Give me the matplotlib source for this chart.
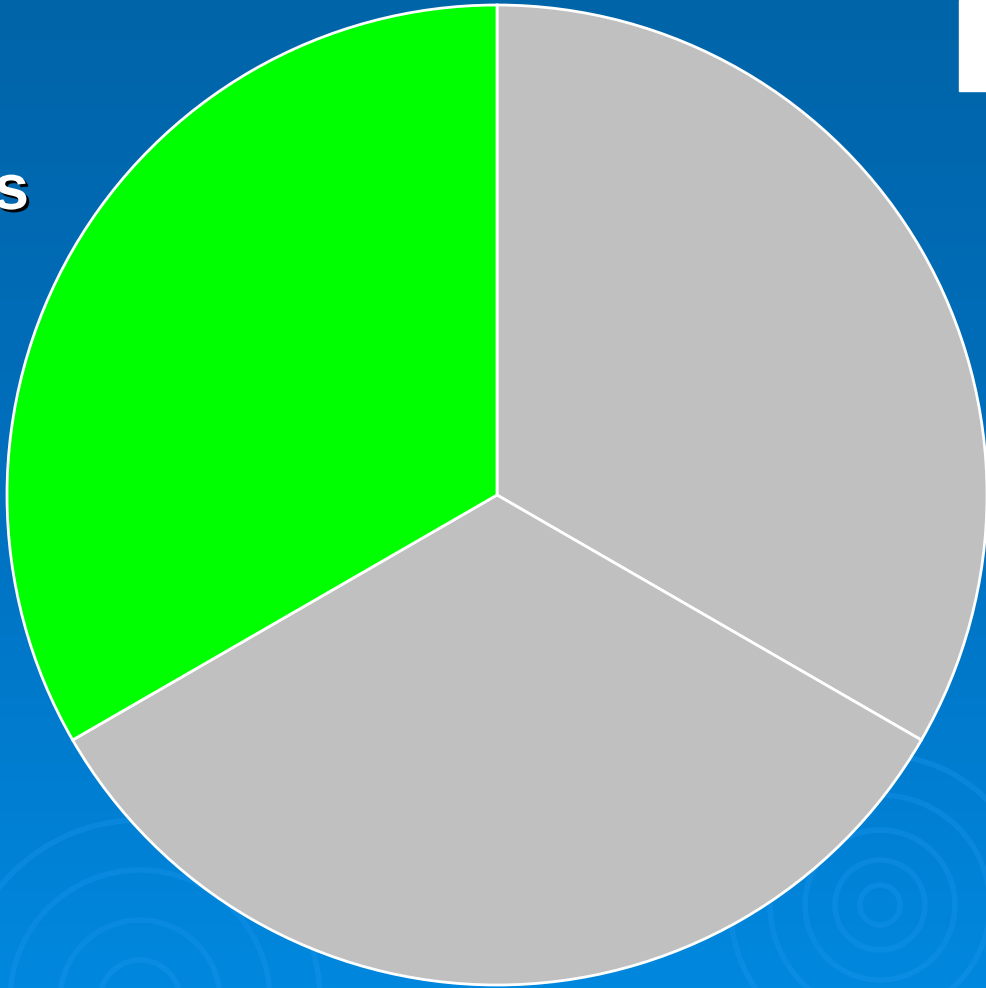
import numpy as np
import matplotlib.pyplot as plt
import matplotlib.patheffects as pe
from matplotlib.patches import Rectangle, Circle
from matplotlib.colors import LinearSegmentedColormap

labels = ["A", "B", "C"]
values = [1, 1, 1]
colors = ["#c0c0c0", "#c0c0c0", "#00ff00"]

W, H = 986, 988
cx, cy, r = 497, 495, 490

fig = plt.figure(figsize=(W / 100, H / 100), dpi=100)

# background gradient
bg = fig.add_axes([0, 0, 1, 1])
grad = np.linspace(0, 1, 256).reshape(-1, 1)
cmap = LinearSegmentedColormap.from_list("bg", ["#0064a8", "#0070bf", "#0088de"])
bg.imshow(grad, aspect="auto", cmap=cmap, extent=[0, W, H, 0])
# faint ripples
for (x0, y0, radii) in [(880, 905, [20, 45, 75, 110, 150]), (140, 1000, [40, 80, 130, 180])]:
    for rr in radii:
        bg.add_patch(Circle((x0, y0), rr, fill=False, lw=4, ec="#1a96ee", alpha=0.35))
bg.add_patch(Rectangle((959, 0), 30, 91, color="white"))
bg.text(29, 192, "s", ha="right", va="center", fontsize=46, fontweight="bold",
        family="Liberation Sans", color="white",
        path_effects=[pe.withSimplePatchShadow(offset=(2, -2), shadow_rgbFace="black", alpha=1)])
bg.set_xlim(0, W)
bg.set_ylim(H, 0)
bg.axis("off")

ax = fig.add_axes([0, 0, 1, 1])
ax.patch.set_visible(False)
ax.pie(values, colors=colors, startangle=90, counterclock=False,
       radius=1, wedgeprops=dict(edgecolor="white", linewidth=2))
ax.set_xlim(-cx / r, (W - cx) / r)
ax.set_ylim(-(H - cy) / r, cy / r)
ax.set_aspect("auto")
ax.axis("off")

fig.savefig("out.png", dpi=100)
